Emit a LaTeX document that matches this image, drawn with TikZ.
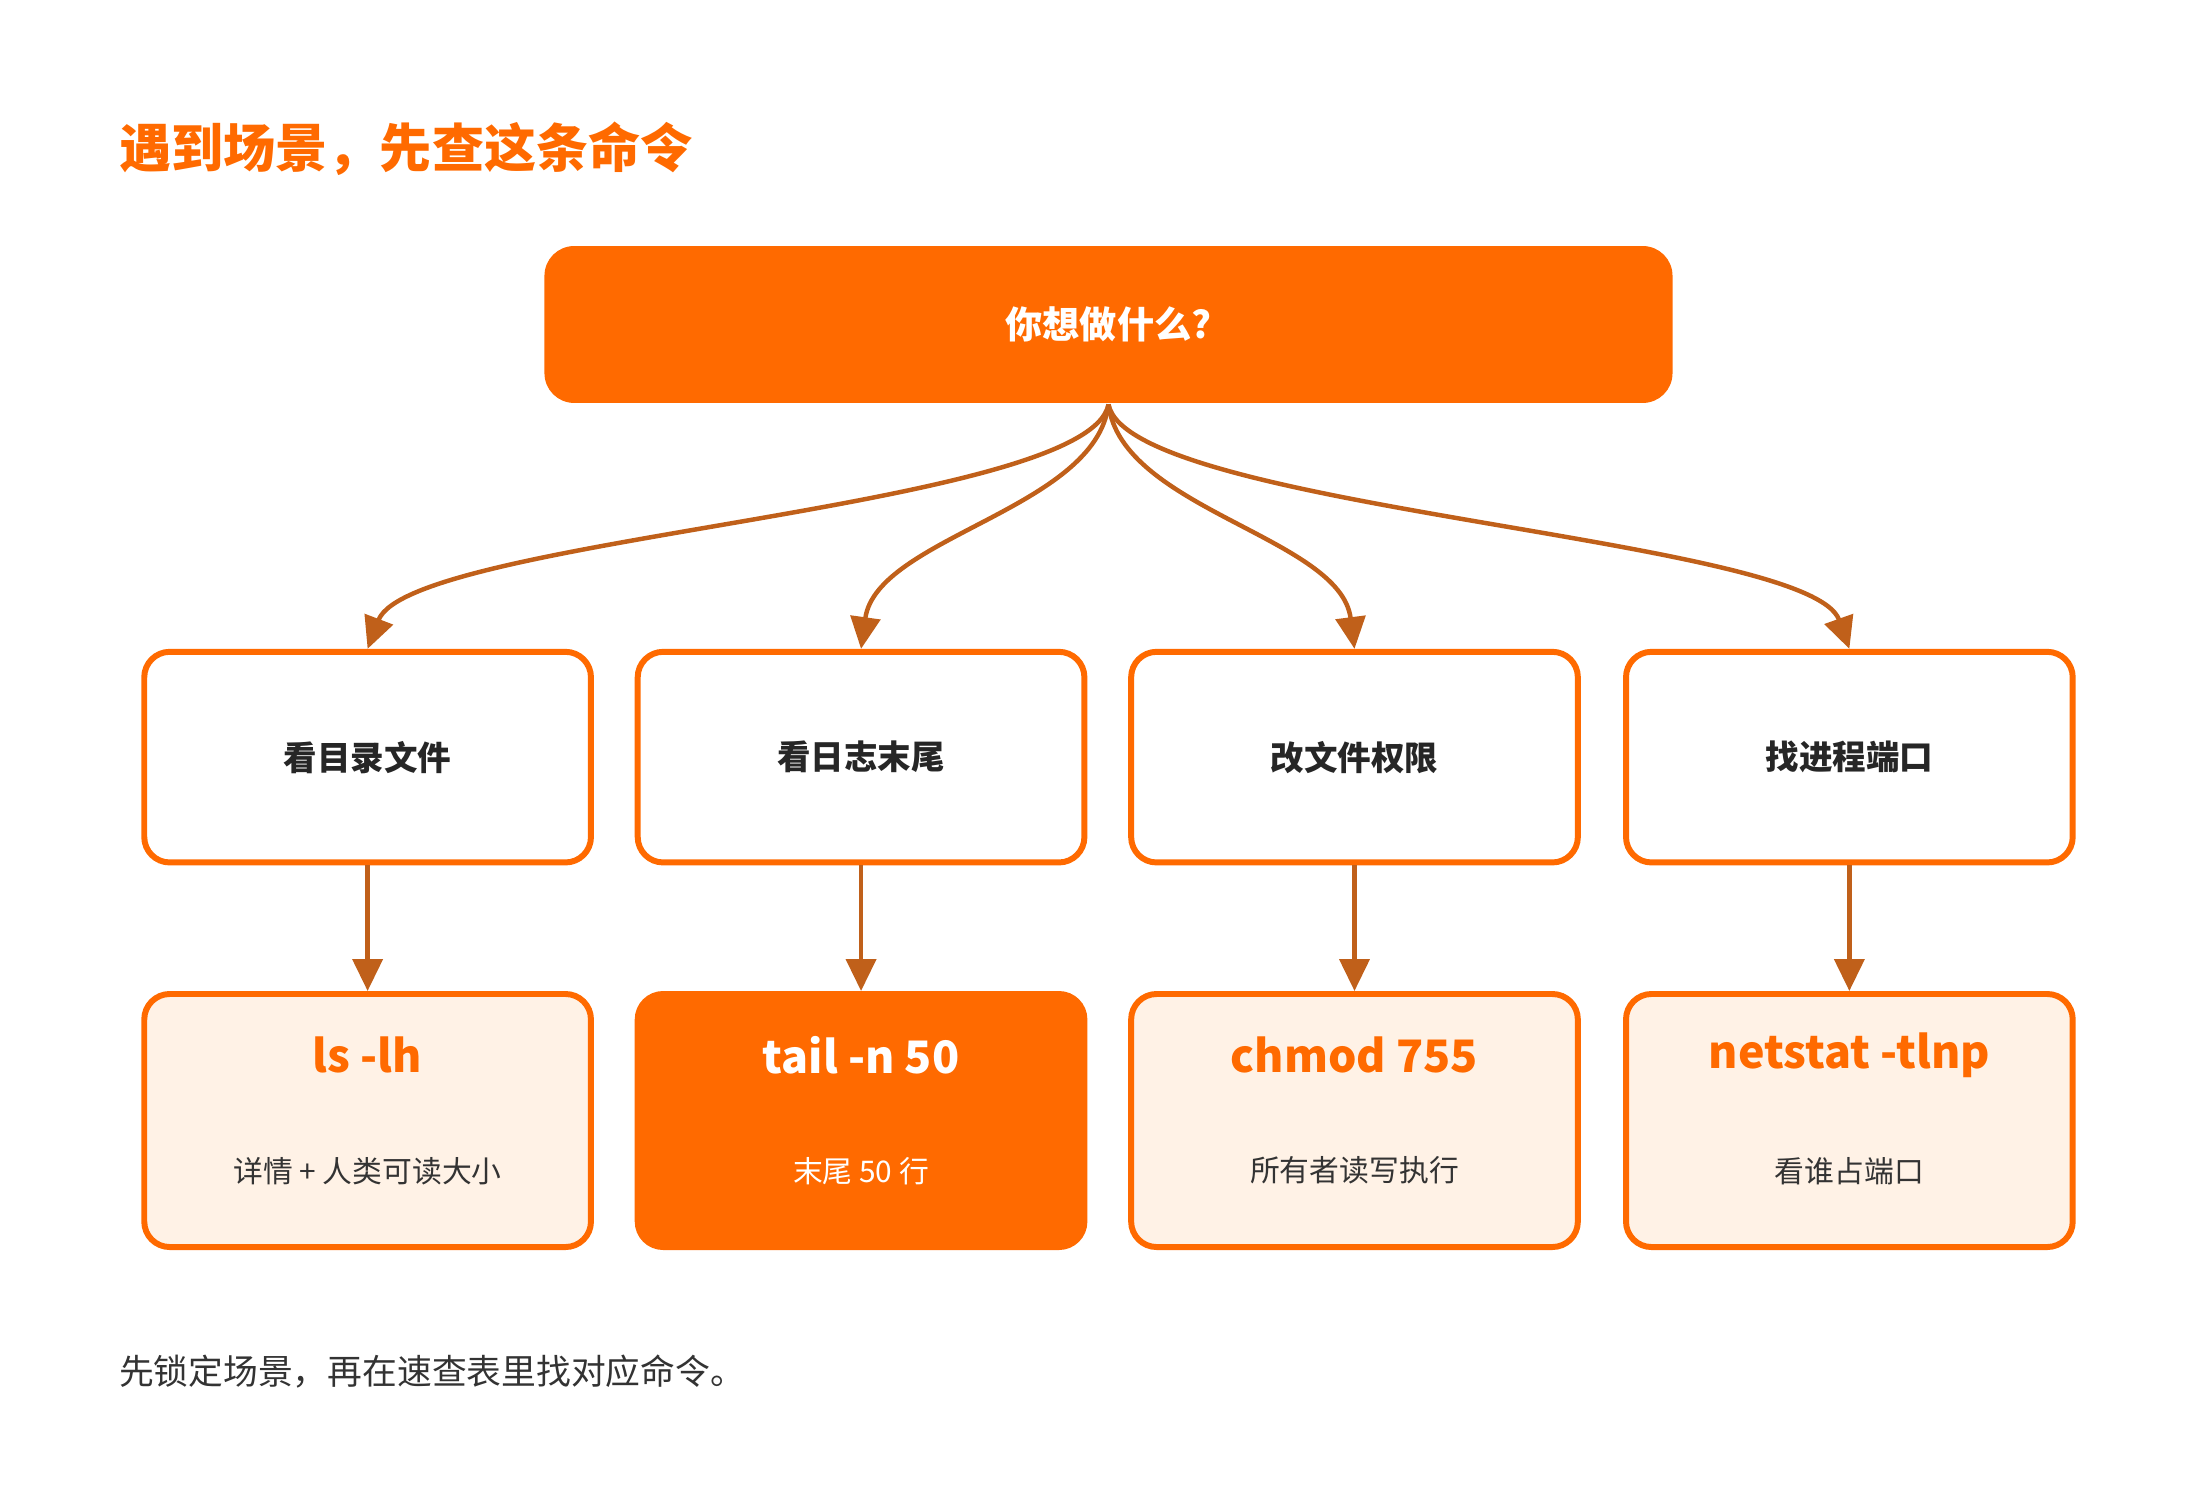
\documentclass[tikz,border=0pt]{standalone}
\usepackage{fontspec}
\setmainfont{Noto Sans CJK SC}
\usetikzlibrary{arrows.meta}
\definecolor{org}{HTML}{FF6A00}
\definecolor{brn}{HTML}{C0601A}
\definecolor{pale}{HTML}{FFF2E6}
\definecolor{txt}{HTML}{333333}
\begin{document}
\begin{tikzpicture}[x=0.02cm,y=-0.02cm,
  mid/.style={draw=org,line width=2.4pt,rounded corners=0.36cm,fill=white,minimum width=6.32cm,minimum height=2.98cm,font=\fontsize{13.5}{16}\selectfont\bfseries,text=black!85},
  bot/.style={draw=org,line width=2.4pt,rounded corners=0.36cm,fill=pale,minimum width=6.32cm,minimum height=3.58cm},
  cmd/.style={font=\fontsize{18}{20}\selectfont\bfseries,text=org},
  sub/.style={font=\fontsize{12}{14}\selectfont,text=txt},
  arr/.style={draw=brn,line width=1.8pt,-{Triangle[length=0.45cm,width=0.42cm]}}]
\useasboundingbox (0,0) rectangle (1556,1052);
\node[anchor=west,font=\fontsize{21}{24}\selectfont\bfseries,text=org] (title) at (78,105) {遇到场景，先查这条命令};
\node[fill=org,rounded corners=0.42cm,minimum width=15.96cm,minimum height=2.22cm,font=\fontsize{15}{18}\selectfont\bfseries,text=white] (top) at (784,229.5) {你想做什么?};
\foreach \n/\x/\t in {a/260/看目录文件,b/609/看日志末尾,c/958/改文件权限,d/1308/找进程端口}
  \node[mid] (\n) at (\x,535.5) {\t};
\node[bot] (la) at (260,792.5) {};
\node[bot,fill=org] (lb) at (609,792.5) {};
\node[bot] (lc) at (958,792.5) {};
\node[bot] (ld) at (1308,792.5) {};
\node[cmd] (ca) at (260,746) {ls -lh};
\node[cmd,text=white] (cb) at (609,746) {tail -n 50};
\node[cmd] (cc) at (958,746) {chmod 755};
\node[cmd] (cd) at (1308,746) {netstat -tlnp};
\node[sub] (sa) at (260,828) {详情 + 人类可读大小};
\node[sub,text=white] (sb) at (609,828) {末尾 50 行};
\node[sub] (sc) at (958,828) {所有者读写执行};
\node[sub] (sd) at (1308,828) {看谁占端口};
\coordinate (o) at (784,286);
\draw[arr] (o) .. controls (770,360) and (290,380) .. (a.north);
\draw[arr] (o) .. controls (775,360) and (620,380) .. (b.north);
\draw[arr] (o) .. controls (793,360) and (948,380) .. (c.north);
\draw[arr] (o) .. controls (798,360) and (1280,380) .. (d.north);
\foreach \u/\v in {a/la,b/lb,c/lc,d/ld} \draw[arr] (\u) -- (\v);
\node[anchor=west,font=\fontsize{14}{16}\selectfont,text=txt] (foot) at (78,970) {先锁定场景，再在速查表里找对应命令。};
\end{tikzpicture}
\end{document}
